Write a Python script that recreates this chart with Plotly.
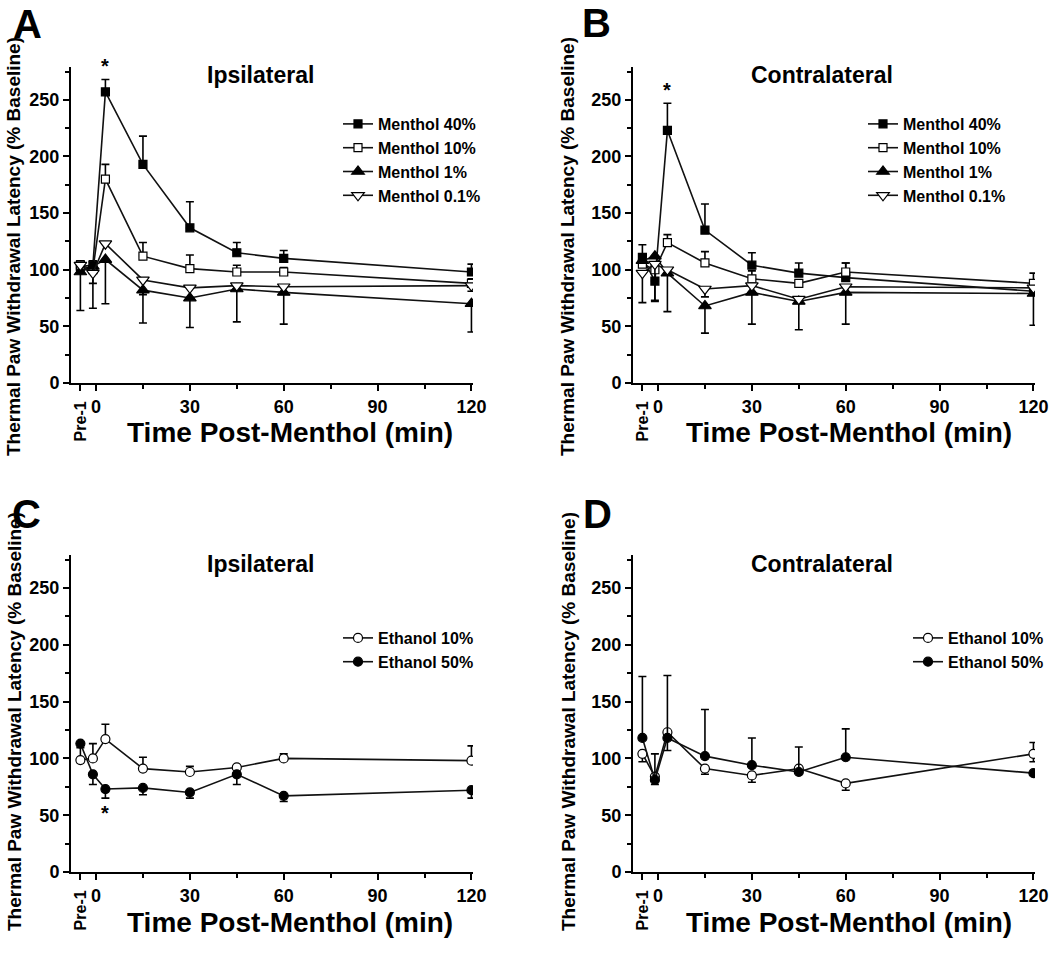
import plotly.graph_objects as go

# ---------------- data ----------------
TIMES = [-5, -1, 3, 15, 30, 45, 60, 120]
X_TICKVALS = [-5, 0, 30, 60, 90, 120]
X_TICKTEXT = ["", "0", "30", "60", "90", "120"]
X_MINOR = [15, 45, 75, 105]
Y_TICKVALS = [0, 50, 100, 150, 200, 250]
Y_MINOR = [25, 75, 125, 175, 225, 275]

# Panel A (Ipsilateral, menthol)
m40_A = [103, 104, 257, 193, 137, 115, 110, 98]
m40_A_up = [5, 4, 11, 25, 23, 9, 7, 7]
m10_A = [104, 100, 180, 112, 101, 98, 98, 88]
m10_A_up = [4, 3, 13, 12, 12, 6, 4, 4]
m1_A = [98, 103, 109, 82, 75, 83, 80, 70]
m1_A_dn = [34, 37, 39, 29, 26, 29, 28, 25]
m01_A = [104, 97, 123, 91, 84, 86, 85, 86]
m01_A_dn = [6, 9, 0, 13, 0, 0, 0, 5]

# Panel B (Contralateral, menthol)
m40_B = [111, 90, 223, 135, 104, 97, 93, 81]
m40_B_up = [11, 0, 24, 23, 11, 9, 13, 0]
m40_B_dn = [0, 17, 0, 0, 0, 0, 0, 0]
m10_B = [105, 100, 124, 106, 92, 88, 98, 88]
m10_B_up = [8, 5, 7, 10, 7, 0, 8, 9]
m1_B = [108, 112, 97, 68, 80, 72, 80, 79]
m1_B_dn = [0, 0, 34, 24, 28, 25, 28, 28]
m01_B = [97, 105, 100, 83, 86, 74, 85, 84]
m01_B_dn = [26, 33, 0, 7, 0, 0, 0, 0]

# Panel C (Ipsilateral, ethanol)
e10_C = [98.5, 100, 117, 91, 88, 92, 100, 98]
e10_C_up = [11, 13, 13, 10, 5, 2, 4, 13]
e50_C = [113, 86, 73, 74, 70, 86, 67, 72]
e50_C_dn = [0, 9, 8, 6, 5, 9, 5, 7]

# Panel D (Contralateral, ethanol)
e10_D = [104, 84, 123, 91, 85, 91, 78, 104]
e10_D_up = [0, 0, 0, 0, 0, 0, 0, 10]
e10_D_dn = [7, 7, 16, 5, 6, 0, 6, 7]
e50_D = [118, 81, 118, 102, 94, 88, 101, 87]
e50_D_up = [54, 23, 55, 41, 24, 22, 25, 0]

FONT = "Liberation Sans"
W, H = 1050, 958


def px_x(p):
    return p / W


def px_y(p):
    return 1 - p / H


fig = go.Figure()


def add_series(name, y, up, dn, xa, ya, legend, symbol, fill, size):
    zeros = [0] * len(y)
    fig.add_trace(go.Scatter(
        x=TIMES, y=y, name=name, mode="lines+markers",
        xaxis=xa, yaxis=ya, legend=legend,
        line=dict(color="#111111", width=1.6),
        marker=dict(symbol=symbol, size=size, color=fill,
                    line=dict(color="black", width=1.2)),
        error_y=dict(type="data", symmetric=False,
                     array=up if up is not None else zeros,
                     arrayminus=dn if dn is not None else zeros,
                     color="black", thickness=1.6, width=4),
    ))


# Panel A
add_series("Menthol 40%", m40_A, m40_A_up, None, "x", "y", "legend", "square", "black", 8)
add_series("Menthol 10%", m10_A, m10_A_up, None, "x", "y", "legend", "square", "white", 8)
add_series("Menthol 1%", m1_A, None, m1_A_dn, "x", "y", "legend", "triangle-up", "black", 11)
add_series("Menthol 0.1%", m01_A, None, m01_A_dn, "x", "y", "legend", "triangle-down", "white", 11)
# Panel B
add_series("Menthol 40%", m40_B, m40_B_up, m40_B_dn, "x2", "y2", "legend2", "square", "black", 8)
add_series("Menthol 10%", m10_B, m10_B_up, None, "x2", "y2", "legend2", "square", "white", 8)
add_series("Menthol 1%", m1_B, None, m1_B_dn, "x2", "y2", "legend2", "triangle-up", "black", 11)
add_series("Menthol 0.1%", m01_B, None, m01_B_dn, "x2", "y2", "legend2", "triangle-down", "white", 11)
# Panel C
add_series("Ethanol 10%", e10_C, e10_C_up, None, "x3", "y3", "legend3", "circle", "white", 9)
add_series("Ethanol 50%", e50_C, None, e50_C_dn, "x3", "y3", "legend3", "circle", "black", 9)
# Panel D
add_series("Ethanol 10%", e10_D, e10_D_up, e10_D_dn, "x4", "y4", "legend4", "circle", "white", 9)
add_series("Ethanol 50%", e50_D, e50_D_up, None, "x4", "y4", "legend4", "circle", "black", 9)

tickfont = dict(family=FONT, size=18, color="black", weight="bold")


def xaxis(domain, anchor):
    return dict(domain=domain, anchor=anchor, range=[-8, 120.5], automargin=False,
                tickvals=X_TICKVALS, ticktext=X_TICKTEXT, ticks="outside",
                ticklen=6, tickwidth=2, tickcolor="black",
                showline=True, linewidth=2, linecolor="black",
                showgrid=False, zeroline=False, tickfont=tickfont,
                minor=dict(tickvals=X_MINOR, ticks="outside", ticklen=4,
                           tickwidth=1.5, tickcolor="black", showgrid=False))


def yaxis(domain, anchor):
    return dict(domain=domain, anchor=anchor, range=[0, 279], automargin=False,
                tickvals=Y_TICKVALS, ticks="outside", ticklen=6, tickwidth=2,
                tickcolor="black", showline=True, linewidth=2, linecolor="black",
                showgrid=False, zeroline=False, tickfont=tickfont,
                minor=dict(tickvals=Y_MINOR, ticks="outside", ticklen=4,
                           tickwidth=1.5, tickcolor="black", showgrid=False))


XL = [px_x(71), px_x(473)]
XR = [px_x(633), px_x(1035)]
YT = [px_y(383), px_y(67)]
YB = [px_y(872), px_y(555)]

legfont = dict(family=FONT, size=16, color="black", weight="bold")


def legend(xp, yp):
    return dict(x=px_x(xp), y=px_y(yp), xanchor="left", yanchor="top",
                font=legfont, bgcolor="rgba(0,0,0,0)", borderwidth=0,
                tracegroupgap=0, itemclick=False)


fig.update_layout(
    width=W, height=H, margin=dict(l=0, r=0, t=0, b=0, autoexpand=False),
    paper_bgcolor="white", plot_bgcolor="white",
    font=dict(family=FONT, color="black"),
    xaxis=xaxis(XL, "y"), yaxis=yaxis(YT, "x"),
    xaxis2=xaxis(XR, "y2"), yaxis2=yaxis(YT, "x2"),
    xaxis3=xaxis(XL, "y3"), yaxis3=yaxis(YB, "x3"),
    xaxis4=xaxis(XR, "y4"), yaxis4=yaxis(YB, "x4"),
    legend=legend(338, 107),
    legend2=legend(863, 107),
    legend3=legend(338, 621),
    legend4=legend(908, 621),
)

ann = []
bold = dict(family=FONT, color="black", weight="bold")
panels = [("A", 27, 24, 290, 433, 14, 247, "Ipsilateral", 260, 75),
          ("B", 596, 23, 849, 433, 568, 247, "Contralateral", 822, 75),
          ("C", 26, 514, 290, 922, 14, 722, "Ipsilateral", 260, 564),
          ("D", 597, 514, 849, 922, 568, 722, "Contralateral", 822, 564)]


def note(text, x, y, size, angle=0):
    return dict(text=text, x=px_x(x), y=px_y(y), xref="paper", yref="paper",
                xanchor="center", yanchor="middle", showarrow=False,
                textangle=angle, font=dict(size=size, **bold))


for letter, lx, ly, tx, ty, yx, yy, sub, sx, sy in panels:
    ann.append(note(letter, lx, ly, 40))
    ann.append(note("Time Post-Menthol (min)", tx, ty, 28))
    ann.append(note("Thermal Paw Withdrawal Latency (% Baseline)", yx, yy, 19, -90))
    ann.append(note(sub, sx, sy, 23))

for xa, ya in [("x", "y"), ("x2", "y2"), ("x3", "y3"), ("x4", "y4")]:
    ann.append(dict(text="Pre-1", x=-5, y=0, xref=xa, yref=ya, yshift=-38,
                    xanchor="center", yanchor="middle",
                    showarrow=False, textangle=-90, font=dict(size=16, **bold)))

# significance stars
ann.append(dict(text="*", x=3, y=m40_A[2] + m40_A_up[2], xref="x", yref="y",
                xanchor="center", yanchor="bottom", showarrow=False,
                font=dict(size=20, **bold)))
ann.append(dict(text="*", x=3, y=m40_B[2] + m40_B_up[2], xref="x2", yref="y2",
                xanchor="center", yanchor="bottom", showarrow=False,
                font=dict(size=20, **bold)))
ann.append(dict(text="*", x=3, y=e50_C[2] - e50_C_dn[2], xref="x3", yref="y3",
                xanchor="center", yanchor="top", yshift=-2, showarrow=False,
                font=dict(size=20, **bold)))

fig.update_layout(annotations=ann)
fig.write_html("out.html", config={"displayModeBar": False},
               post_script="document.body.style.margin='0px';document.body.style.overflow='hidden';")
